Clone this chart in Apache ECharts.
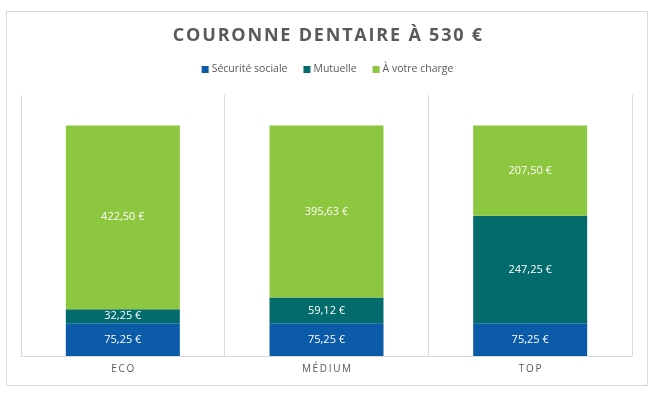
<!DOCTYPE html>
<html>
<head>
<meta charset="utf-8">
<script src="https://cdn.jsdelivr.net/npm/echarts@6/dist/echarts.min.js"></script>
<style>html,body{margin:0;padding:0;background:#fff}#c{width:655px;height:395px}</style>
</head>
<body>
<div id="c"></div>
<script>
var categories = ['ECO', 'MÉDIUM', 'TOP'];
var securiteSociale = [75.25, 75.25, 75.25];
var mutuelle = [32.25, 59.12, 247.25];
var aVotreCharge = [422.50, 395.63, 207.50];
var seriesNames = ['Sécurité sociale', 'Mutuelle', 'À votre charge'];
var titleText = 'COURONNE DENTAIRE À 530 €';

function spaced(s, sep) { return s.split('').join(sep); }
function fmt(v) { return v.toFixed(2).replace('.', ',') + ' €'; }

var chart = echarts.init(document.getElementById('c'));
var labelCfg = {
  show: true, position: 'inside', color: '#fff', fontSize: 11,
  fontFamily: 'Open Sans',
  formatter: function (p) { return fmt(p.value); }
};
chart.setOption({
  animation: false,
  textStyle: { fontFamily: 'Open Sans' },
  title: {
    text: spaced(titleText, '\u200A'), left: 'center', top: 22,
    textStyle: { fontSize: 18, fontWeight: 'bold', color: '#595959', fontFamily: 'Open Sans' }
  },
  legend: {
    top: 59, left: 'center', itemWidth: 7, itemHeight: 7, itemGap: 16,
    icon: 'rect',
    textStyle: { fontSize: 10.5, color: '#595959', padding: [0, 0, 0, -2] },
    data: seriesNames
  },
  graphic: [{
    type: 'rect', shape: { x: 6.5, y: 11.5, width: 641, height: 374 },
    style: { fill: 'none', stroke: '#d9d9d9', lineWidth: 1 }, silent: true, z: -1
  }],
  grid: { left: 21, right: 23, top: 95, bottom: 39 },
  xAxis: {
    type: 'category', data: categories,
    axisLine: { lineStyle: { color: '#d9d9d9' } },
    axisTick: { show: false },
    splitLine: { show: true, lineStyle: { color: '#d9d9d9' } },
    axisLabel: { color: '#595959', fontSize: 10, margin: 8, formatter: function (v) { return spaced(v, '\u2009'); } }
  },
  yAxis: {
    type: 'value', min: 0, max: 600, interval: 100, show: false,
    splitLine: { show: false }
  },
  series: [
    { name: seriesNames[0], type: 'bar', stack: 't', data: securiteSociale, barWidth: 114, itemStyle: { color: '#0b5ba8' }, label: labelCfg },
    { name: seriesNames[1], type: 'bar', stack: 't', data: mutuelle, barWidth: 114, itemStyle: { color: '#036b6c' }, label: labelCfg },
    { name: seriesNames[2], type: 'bar', stack: 't', data: aVotreCharge, barWidth: 114, itemStyle: { color: '#8dc63f' }, label: labelCfg }
  ]
});
</script>
</body>
</html>
